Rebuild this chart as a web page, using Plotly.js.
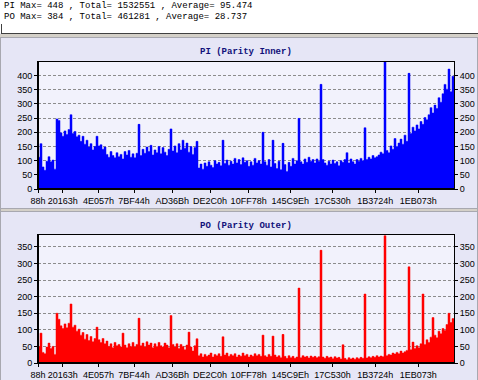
<!DOCTYPE html>
<html>
<head>
<meta charset="utf-8">
<script src="https://cdn.plot.ly/plotly-3.0.1.min.js"></script>
<style>
html,body{margin:0;padding:0;background:#fff;}
#chart{width:478px;height:380px;}
</style>
</head>
<body>
<div id="chart"></div>
<script>
// ---- data ----
const HEADER_LINES = [
  'PI Max= 448 , Total= 1532551 , Average= 95.474',
  'PO Max= 384 , Total= 461281 , Average= 28.737'
];
const PI_TITLE = 'PI (Parity Inner)';
const PO_TITLE = 'PO (Parity Outer)';
const X_LABELS = ['88h','20163h','4E057h','7BF44h','AD36Bh','DE2C0h','10FF78h','145C9Eh','17C530h','1B3724h','1EB073h'];
const PI_TICKS = [0,50,100,150,200,250,300,350,400];
const PO_TICKS = [0,50,100,150,200,250,300,350];
const SECTORS_PER_BAR = 10577;

const PI_VALUES = [
112,160,78,66,98,114,96,102,70,247,
242,198,186,205,192,210,262,196,203,184,
190,168,186,158,172,148,160,138,150,186,
152,156,140,148,122,112,132,118,110,128,
114,122,106,132,120,136,112,124,110,126,
228,118,140,126,148,132,154,120,138,128,
150,124,146,130,118,140,212,134,152,128,
160,138,172,144,162,130,150,122,146,168,
74,88,70,92,80,96,84,76,100,88,
94,82,172,90,102,84,98,88,108,92,
104,86,110,94,100,80,96,84,108,92,
100,88,200,96,84,104,78,172,90,72,
98,68,161,86,62,94,80,108,88,100,
249,96,88,106,94,112,98,104,92,106,
98,369,104,92,84,98,88,102,90,96,
82,100,94,104,128,92,106,96,88,104,
98,108,100,216,104,112,106,118,110,114,
120,130,124,448,136,128,152,140,178,150,
162,176,158,190,168,408,196,218,205,226,
212,238,228,252,244,262,287,268,296,284,
322,306,336,369,352,423,343,398
];

const PO_VALUES = [
50,90,32,28,48,60,44,50,26,150,
132,112,104,118,106,120,178,108,114,96,
102,84,92,72,86,68,80,64,74,108,
70,62,74,58,66,50,58,46,62,52,
56,48,90,54,46,58,50,62,48,56,
135,52,60,48,64,54,60,46,58,50,
62,52,48,60,54,46,143,56,48,58,
44,56,50,40,54,93,48,36,52,73,
22,28,18,26,20,24,30,18,26,22,
28,20,79,24,30,20,26,22,28,18,
24,20,30,22,26,18,24,20,28,22,
26,20,84,22,18,26,20,81,24,18,
22,16,86,20,14,22,16,20,14,18,
226,16,22,18,20,15,21,17,20,16,
19,340,18,14,20,16,18,13,19,15,
17,12,55,14,10,16,12,15,11,16,
13,17,14,208,15,19,16,20,17,22,
18,21,19,384,22,26,24,30,27,32,
28,36,30,34,38,290,40,63,44,52,
46,58,208,56,70,62,78,137,84,76,
96,88,104,98,116,150,122,134
];

// ---- styling / geometry ----
const W = 478, H = 380;
const px = v => v / W;
const py = v => 1 - v / H;
const PANEL_BG = '#E6E6F6';
const PLOT_BG = '#F2F2FC';
const N = PI_VALUES.length;
const xRange = [0, N * SECTORS_PER_BAR];
const tickVals = X_LABELS.map(s => parseInt(s, 16));

// step outline: left edge of every sample bar, plus closing right edge
const edgeX = PI_VALUES.map((_, i) => i * SECTORS_PER_BAR).concat([N * SECTORS_PER_BAR]);
const stepY = vals => vals.concat([vals[vals.length - 1]]);
const centerX = PI_VALUES.map((_, i) => (i + 0.5) * SECTORS_PER_BAR);

function spikesOnly(vals) {
  return vals.map((v, i) => {
    const a = i > 0 ? vals[i - 1] : v;
    const b = i < vals.length - 1 ? vals[i + 1] : v;
    return (v > 1.35 * Math.max(a, b) && v - Math.max(a, b) > 30) ? v : null;
  });
}

const tickFont = {family: 'Liberation Sans, Arial, sans-serif', size: 9, color: '#000'};

function xAxis(anchor) {
  return {
    domain: [px(38), px(454)], anchor: anchor, range: xRange,
    tickmode: 'array', tickvals: tickVals, ticktext: X_LABELS,
    ticks: 'outside', ticklen: 3, tickcolor: '#000', tickfont: tickFont,
    showline: true, linecolor: '#000', linewidth: 1, mirror: true,
    showgrid: false, zeroline: false, fixedrange: true
  };
}
function yAxis(domain, range, ticks, anchor) {
  return {
    domain: domain, anchor: anchor, range: range,
    tickmode: 'array', tickvals: ticks,
    ticks: 'outside', ticklen: 3, tickcolor: '#000', tickfont: tickFont,
    showline: true, linecolor: '#000', linewidth: 1, mirror: true,
    showgrid: true, gridcolor: '#8C8C8C', gridwidth: 1, griddash: '3px,2px',
    zeroline: false, fixedrange: true
  };
}
function yRight(overlay, range, ticks, anchor) {
  return {
    overlaying: overlay, side: 'right', anchor: anchor, range: range,
    tickmode: 'array', tickvals: ticks,
    ticks: 'outside', ticklen: 3, tickcolor: '#000', tickfont: tickFont,
    showline: false, showgrid: false, zeroline: false, fixedrange: true
  };
}

const PI_RANGE = [0, 448];
const PO_RANGE = [0, 387];
const topDomain = [py(189), py(62)];
const botDomain = [py(363), py(234.7)];

function seriesTraces(vals, xa, ya, yr, dark, light) {
  return [
    {type: 'scatter', mode: 'lines', x: edgeX, y: stepY(vals), xaxis: xa, yaxis: ya,
     line: {shape: 'hv', width: 0.5, color: dark}, fill: 'tozeroy', fillcolor: dark,
     hoverinfo: 'skip', showlegend: false},
    {type: 'bar', x: centerX, y: spikesOnly(vals), xaxis: xa, yaxis: ya, width: SECTORS_PER_BAR,
     marker: {color: light, line: {width: 0}}, hoverinfo: 'skip', showlegend: false},
    {type: 'scatter', mode: 'none', x: centerX, y: vals, xaxis: xa, yaxis: yr, hoverinfo: 'skip', showlegend: false}
  ];
}

const traces = seriesTraces(PI_VALUES, 'x', 'y', 'y3', '#0000FF', '#6464FF')
  .concat(seriesTraces(PO_VALUES, 'x2', 'y2', 'y4', '#FF0000', '#FF6A6A'));

// thicker left / bottom frame edges, as in the original control
function frameEdges(xa, ya) {
  return [
    {type: 'line', xref: xa + ' domain', yref: ya + ' domain', x0: 0, x1: 0, y0: 0, y1: 1, line: {color: '#000', width: 2}},
    {type: 'line', xref: xa + ' domain', yref: ya + ' domain', x0: 0, x1: 1, y0: 0, y1: 0, line: {color: '#000', width: 2}}
  ];
}

const monoFont = 'Liberation Mono, Courier New, monospace';
const layout = {
  width: W, height: H,
  margin: {l: 0, r: 0, t: 0, b: 0, pad: 0},
  paper_bgcolor: PANEL_BG, plot_bgcolor: PLOT_BG,
  bargap: 0, barmode: 'overlay', showlegend: false,
  xaxis: xAxis('y'),
  yaxis: yAxis(topDomain, PI_RANGE, PI_TICKS, 'x'),
  yaxis3: yRight('y', PI_RANGE, PI_TICKS, 'x'),
  xaxis2: xAxis('y2'),
  yaxis2: yAxis(botDomain, PO_RANGE, PO_TICKS, 'x2'),
  yaxis4: yRight('y2', PO_RANGE, PO_TICKS, 'x2'),
  shapes: [
    {type: 'rect', xref: 'paper', yref: 'paper', x0: 0, x1: 1, y0: py(33), y1: 1, fillcolor: '#FFFFFF', line: {width: 0}, layer: 'below'},
    {type: 'line', xref: 'paper', yref: 'paper', x0: px(1), x1: 1, y0: py(33.5), y1: py(33.5), line: {color: '#404040', width: 1}, layer: 'below'},
    {type: 'line', xref: 'paper', yref: 'paper', x0: px(1.5), x1: px(1.5), y0: py(24), y1: py(33.5), line: {color: '#404040', width: 1}, layer: 'below'},
    {type: 'rect', xref: 'paper', yref: 'paper', x0: 0, x1: 1, y0: py(38), y1: py(34), fillcolor: '#D4D0C8', line: {width: 0}, layer: 'below'},
    {type: 'line', xref: 'paper', yref: 'paper', x0: 0, x1: 1, y0: py(37.5), y1: py(37.5), line: {color: '#A8A8B0', width: 1}, layer: 'below'},
    {type: 'rect', xref: 'paper', yref: 'paper', x0: 0, x1: 1, y0: py(212), y1: py(208), fillcolor: '#D4D0C8', line: {width: 0}, layer: 'below'},
    {type: 'line', xref: 'paper', yref: 'paper', x0: 0, x1: 1, y0: py(208.5), y1: py(208.5), line: {color: '#A8A8B0', width: 1}, layer: 'below'},
    {type: 'line', xref: 'paper', yref: 'paper', x0: 0, x1: 1, y0: py(211.5), y1: py(211.5), line: {color: '#A8A8B0', width: 1}, layer: 'below'},
    {type: 'line', xref: 'paper', yref: 'paper', x0: px(0.5), x1: px(0.5), y0: py(38), y1: 0, line: {color: '#A8A8B0', width: 1}, layer: 'below'},
    {type: 'line', xref: 'paper', yref: 'paper', x0: px(477.5), x1: px(477.5), y0: py(38), y1: 0, line: {color: '#A8A8B0', width: 1}, layer: 'below'}
  ].concat(frameEdges('x', 'y'), frameEdges('x2', 'y2')),
  annotations: [
    {xref: 'paper', yref: 'paper', x: px(2), y: py(6.5), xanchor: 'left', yanchor: 'middle', showarrow: false,
     text: HEADER_LINES[0], font: {family: monoFont, size: 9, color: '#000'}},
    {xref: 'paper', yref: 'paper', x: px(2), y: py(17.5), xanchor: 'left', yanchor: 'middle', showarrow: false,
     text: HEADER_LINES[1], font: {family: monoFont, size: 9, color: '#000'}},
    {xref: 'paper', yref: 'paper', x: px(246), y: py(52), xanchor: 'center', yanchor: 'middle', showarrow: false,
     text: '<b>' + PI_TITLE + '</b>', font: {family: monoFont, size: 9, color: '#10107A'}},
    {xref: 'paper', yref: 'paper', x: px(246), y: py(225.5), xanchor: 'center', yanchor: 'middle', showarrow: false,
     text: '<b>' + PO_TITLE + '</b>', font: {family: monoFont, size: 9, color: '#10107A'}}
  ]
};

Plotly.newPlot('chart', traces, layout, {staticPlot: true, displayModeBar: false});
</script>
</body>
</html>
